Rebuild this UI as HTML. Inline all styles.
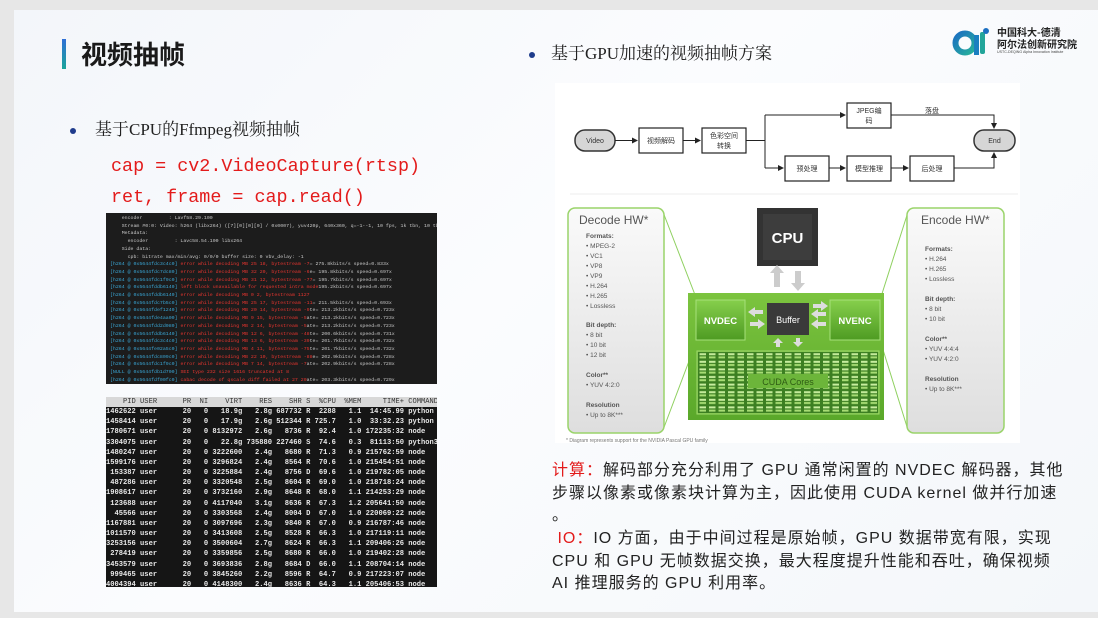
<!DOCTYPE html>
<html><head><meta charset="utf-8"><style>
*{margin:0;padding:0;box-sizing:border-box}
body{width:1098px;height:618px;background:#e7e7e7;position:relative;overflow:hidden;font-family:"Liberation Sans","Noto Sans CJK SC",sans-serif}
.slide{position:absolute;left:14px;top:10px;width:1084px;height:602px;background:linear-gradient(135deg,#f3f6fa 0%,#fbfcfe 45%,#f4f7fa 100%)}
.a{position:absolute}
pre{font-family:"Liberation Mono","DejaVu Sans Mono",monospace;white-space:pre;margin:0}
.t1{left:106px;top:213px;width:331px;height:171px;background:#1c1c1c;overflow:hidden;padding:2px 0 0 4px;font-size:4.9px;line-height:7.7px;color:#c8c8c8}
.c{color:#3aa7d6}.r{color:#e8352f}
.t2{left:106px;top:397px;width:331px;height:190px;background:#151515;overflow:hidden;font-size:7.1px;line-height:10.15px;color:#e8e8e8;font-weight:bold}
.t2 .h{background:#d8d8d8;color:#333;font-weight:normal}
.para{left:552px;width:540px;font-size:16px;line-height:22.7px;color:#222;white-space:nowrap;letter-spacing:1px;font-family:"Liberation Sans","Noto Sans CJK SC",sans-serif}
</style></head><body>
<div class="slide"></div>
<div class="a" style="left:62px;top:39px;width:4px;height:30px;background:linear-gradient(#2f6fd6,#1aa59a)"></div>
<div class="a" style="left:81px;top:36px;font-size:26px;font-weight:bold;color:#1a1a1a;font-family:'Noto Sans CJK SC',sans-serif;line-height:36px">视频抽帧</div>
<svg class="a" style="left:952px;top:26px" width="40" height="32" viewBox="0 0 40 32">
<defs><linearGradient id="lg" x1="0" y1="0" x2="1" y2="1"><stop offset="0" stop-color="#1b6fc1"/><stop offset="1" stop-color="#27b29a"/></linearGradient></defs>
<circle cx="13" cy="17" r="9.5" fill="none" stroke="url(#lg)" stroke-width="6"/>
<rect x="22" y="9" width="5" height="20" fill="#1b7fc0"/>
<rect x="28" y="6" width="5" height="22" rx="2" fill="#22a59a"/>
<circle cx="34" cy="5" r="3" fill="#1b6fc1"/>
</svg>
<div class="a" style="left:997px;top:26px;font-size:10px;line-height:12px;font-weight:bold;color:#222;font-family:'Noto Sans CJK SC',sans-serif">中国科大-德清<br>阿尔法创新研究院</div>
<div class="a" style="left:997px;top:50px;font-size:3.6px;color:#444;white-space:nowrap">USTC-DEQING Alpha Innovation Institute</div>
<div class="a" style="left:70px;top:128px;width:6px;height:6px;border-radius:50%;background:#1f3c8c"></div>
<div class="a" style="left:95px;top:119px;font-size:17px;color:#222;font-family:'Liberation Serif','Noto Serif CJK SC',serif;line-height:22px">基于CPU的Ffmpeg视频抽帧</div>
<pre class="a" style="left:111px;top:151px;font-size:18.4px;line-height:31px;color:#e31b1b">cap = cv2.VideoCapture(rtsp)
ret, frame = cap.read()</pre>
<pre class="a t1">    encoder         : Lavf58.29.100
    Stream #0:0: Video: h264 (libx264) ([7][0][0][0] / 0x0007), yuv420p, 640x360, q=-1--1, 10 fps, 1k tbn, 10 tbc
    Metadata:
      encoder         : Lavc58.54.100 libx264
    Side data:
      cpb: bitrate max/min/avg: 0/0/0 buffer size: 0 vbv_delay: -1
<span class="c">[h264 @ 0x5644fdc3c4c0]</span> <span class="r">error while decoding MB 25 18, bytestream -7</span>= 275.8kbits/s speed=0.833x
<span class="c">[h264 @ 0x5644fdc7dc80]</span> <span class="r">error while decoding MB 32 20, bytestream -6</span>e= 195.8kbits/s speed=0.697x
<span class="c">[h264 @ 0x5644fdc1f9c0]</span> <span class="r">error while decoding MB 31 12, bytestream -77</span>= 195.7kbits/s speed=0.697x
<span class="c">[h264 @ 0x5644fddb6140]</span> <span class="r">left block unavailable for requested intra mode</span>195.2kbits/s speed=0.697x
<span class="c">[h264 @ 0x5644fddb6140]</span> <span class="r">error while decoding MB 0 2, bytestream 1127</span>
<span class="c">[h264 @ 0x5644fdc7b5c0]</span> <span class="r">error while decoding MB 25 17, bytestream -11</span>= 211.5kbits/s speed=0.693x
<span class="c">[h264 @ 0x5644fdef1240]</span> <span class="r">error while decoding MB 20 14, bytestream -9</span>te= 213.2kbits/s speed=0.723x
<span class="c">[h264 @ 0x5644fde4aa00]</span> <span class="r">error while decoding MB 9 15, bytestream -5</span>ate= 213.2kbits/s speed=0.723x
<span class="c">[h264 @ 0x5644fdd2d080]</span> <span class="r">error while decoding MB 2 14, bytestream -5</span>ate= 213.2kbits/s speed=0.723x
<span class="c">[h264 @ 0x5644fddb6140]</span> <span class="r">error while decoding MB 12 6, bytestream -48</span>te= 200.6kbits/s speed=0.731x
<span class="c">[h264 @ 0x5644fdc3c4c0]</span> <span class="r">error while decoding MB 13 6, bytestream -39</span>te= 201.7kbits/s speed=0.732x
<span class="c">[h264 @ 0x5644fe02a5c0]</span> <span class="r">error while decoding MB 4 11, bytestream -75</span>te= 201.7kbits/s speed=0.732x
<span class="c">[h264 @ 0x5644fdc809c0]</span> <span class="r">error while decoding MB 22 10, bytestream -88</span>e= 202.9kbits/s speed=0.728x
<span class="c">[h264 @ 0x5644fdc1f9c0]</span> <span class="r">error while decoding MB 7 14, bytestream -7</span>ate= 202.9kbits/s speed=0.728x
<span class="c">[NULL @ 0x5644fdb1d700]</span> <span class="r">SEI type 232 size 1616 truncated at 8</span>
<span class="c">[h264 @ 0x5644fdf00fc0]</span> <span class="r">cabac decode of qscale diff failed at 27 20</span>ate= 203.3kbits/s speed=0.729x
<span class="c">[h264 @ 0x5644fdf00fc0]</span> <span class="r">error while decoding MB 27 20, bytestream 49465</span>
<span class="c">[h264 @ 0x5644fdf01580]</span> <span class="r">error while decoding MB 27 9, bytestream -20</span>te= 203.3kbits/s speed=0.729x</pre>
<pre class="a t2"><div class="h">    PID USER      PR  NI    VIRT    RES    SHR S  %CPU  %MEM     TIME+ COMMAND</div>1462622 user      20   0   18.9g   2.8g 687732 R  2288   1.1  14:45.99 python
1458414 user      20   0   17.9g   2.6g 512344 R 725.7   1.0  33:32.23 python
1780671 user      20   0 8132972   2.6g   8736 R  92.4   1.0 172235:32 node
3304075 user      20   0   22.8g 735880 227460 S  74.6   0.3  81113:50 python3
1480247 user      20   0 3222600   2.4g   8680 R  71.3   0.9 215762:59 node
1599176 user      20   0 3296824   2.4g   8564 R  70.6   1.0 215454:51 node
 153387 user      20   0 3225884   2.4g   8756 D  69.6   1.0 219782:05 node
 487286 user      20   0 3320548   2.5g   8604 R  69.0   1.0 218718:24 node
1908617 user      20   0 3732160   2.9g   8648 R  68.0   1.1 214253:29 node
 123688 user      20   0 4117040   3.1g   8636 R  67.3   1.2 205641:50 node
  45566 user      20   0 3303568   2.4g   8004 D  67.0   1.0 220069:22 node
1167881 user      20   0 3097696   2.3g   9840 R  67.0   0.9 216787:46 node
1011570 user      20   0 3413608   2.5g   8528 R  66.3   1.0 217119:11 node
3253156 user      20   0 3500604   2.7g   8624 R  66.3   1.1 209406:26 node
 278419 user      20   0 3359856   2.5g   8680 R  66.0   1.0 219402:28 node
3453579 user      20   0 3693836   2.8g   8684 D  66.0   1.1 208704:14 node
 999465 user      20   0 3845260   2.2g   8596 R  64.7   0.9 217223:07 node
4004394 user      20   0 4148300   2.4g   8636 R  64.3   1.1 205406:53 node</pre>
<div class="a" style="left:529px;top:52px;width:6px;height:6px;border-radius:50%;background:#1f3c8c"></div>
<div class="a" style="left:551px;top:43px;font-size:17px;color:#222;font-family:'Liberation Serif','Noto Serif CJK SC',serif;line-height:22px">基于GPU加速的视频抽帧方案</div>
<div class="a" style="left:555px;top:83px;width:465px;height:360px;background:#fff"></div>
<svg class="a" style="left:0;top:0" width="1098" height="618" font-family="Liberation Sans,Noto Sans CJK SC,sans-serif">
<defs>
<marker id="ar" markerWidth="6" markerHeight="6" refX="5" refY="3" orient="auto"><path d="M0,0L6,3L0,6z" fill="#222"/></marker>
<linearGradient id="pg" x1="0" y1="0" x2="0" y2="1"><stop offset="0" stop-color="#fafafa"/><stop offset="1" stop-color="#dedede"/></linearGradient>
<linearGradient id="gb" x1="0" y1="0" x2="0" y2="1"><stop offset="0" stop-color="#7cc43f"/><stop offset="1" stop-color="#5aa82a"/></linearGradient>
<linearGradient id="nv" x1="0" y1="0" x2="0" y2="1"><stop offset="0" stop-color="#86cf4c"/><stop offset="1" stop-color="#4e9b22"/></linearGradient>
<pattern id="cores" x="698" y="352" width="9.5" height="7.6" patternUnits="userSpaceOnUse">
<rect width="9.5" height="7.6" fill="#3c7f22"/><rect x="1.5" y="1.2" width="6.5" height="2" fill="#c8ee9f"/><rect x="1.5" y="4.4" width="6.5" height="2" fill="#a7dc74"/></pattern>
</defs>
<g stroke="#222" stroke-width="1" fill="none" font-size="7">
<rect x="575" y="130" width="40" height="21" rx="10" fill="#d6d6d6" stroke="#333" stroke-width="1.5"/>
<rect x="639" y="128" width="44" height="25" fill="#fff" stroke-width="1.2"/>
<rect x="702" y="128" width="44" height="25" fill="#fff" stroke-width="1.2"/>
<rect x="847" y="103" width="44" height="25" fill="#fff" stroke-width="1.2"/>
<rect x="785" y="156" width="44" height="25" fill="#fff" stroke-width="1.2"/>
<rect x="847" y="156" width="44" height="25" fill="#fff" stroke-width="1.2"/>
<rect x="910" y="156" width="44" height="25" fill="#fff" stroke-width="1.2"/>
<rect x="974" y="130" width="41" height="21" rx="10" fill="#d6d6d6" stroke="#333" stroke-width="1.5"/>
<path d="M615 140.5H637" marker-end="url(#ar)"/>
<path d="M683 140.5H700" marker-end="url(#ar)"/>
<path d="M746 140.5H765M765 115V168"/>
<path d="M765 115H845" marker-end="url(#ar)"/>
<path d="M765 168H783" marker-end="url(#ar)"/>
<path d="M829 168H845" marker-end="url(#ar)"/>
<path d="M891 168H908" marker-end="url(#ar)"/>
<path d="M891 115H994V128" marker-end="url(#ar)"/>
<path d="M954 168H994V153" marker-end="url(#ar)"/>
</g>
<g font-size="7" fill="#333" text-anchor="middle">
<text x="595" y="143">Video</text><text x="994.5" y="143">End</text>
<text x="661" y="143">视频解码</text>
<text x="724" y="138">色彩空间</text><text x="724" y="148">转换</text>
<text x="869" y="113">JPEG编</text><text x="869" y="123">码</text>
<text x="807" y="171">预处理</text><text x="869" y="171">模型推理</text><text x="932" y="171">后处理</text>
<text x="932" y="113">落盘</text>
</g>
<line x1="570" y1="194" x2="1018" y2="194" stroke="#eee"/>
<g stroke="#8fd060" stroke-width="1">
<path d="M663 212L697 300M663 430L697 340M908 212L880 300M908 430L880 340"/>
</g>
<rect x="568" y="208" width="96" height="225" rx="7" fill="url(#pg)" stroke="#9ad46a" stroke-width="1.5"/>
<rect x="907" y="208" width="97" height="225" rx="7" fill="url(#pg)" stroke="#9ad46a" stroke-width="1.5"/>
<g fill="#555" font-size="6.5">
<text x="579" y="224" font-size="12">Decode HW*</text>
<text x="586" y="238" font-weight="bold">Formats:</text>
<text x="586" y="248">•   MPEG-2</text><text x="586" y="258">•   VC1</text><text x="586" y="268">•   VP8</text><text x="586" y="278">•   VP9</text><text x="586" y="288">•   H.264</text><text x="586" y="298">•   H.265</text><text x="586" y="308">•   Lossless</text>
<text x="586" y="327" font-weight="bold">Bit depth:</text>
<text x="586" y="337">•   8 bit</text><text x="586" y="347">•   10 bit</text><text x="586" y="357">•   12 bit</text>
<text x="586" y="377" font-weight="bold">Color**</text><text x="586" y="387">•   YUV 4:2:0</text>
<text x="586" y="407" font-weight="bold">Resolution</text><text x="586" y="417">•   Up to 8K***</text>
<text x="921" y="224" font-size="12">Encode HW*</text>
<text x="925" y="251" font-weight="bold">Formats:</text>
<text x="925" y="261">•   H.264</text><text x="925" y="271">•   H.265</text><text x="925" y="281">•   Lossless</text>
<text x="925" y="301" font-weight="bold">Bit depth:</text>
<text x="925" y="311">•   8 bit</text><text x="925" y="321">•   10 bit</text>
<text x="925" y="341" font-weight="bold">Color**</text>
<text x="925" y="351">•   YUV 4:4:4</text><text x="925" y="361">•   YUV 4:2:0</text>
<text x="925" y="381" font-weight="bold">Resolution</text><text x="925" y="391">•   Up to 8K***</text>
</g>
<rect x="757" y="208" width="61" height="58" fill="#333"/>
<rect x="763" y="214" width="49" height="46" fill="#3d3d3d"/>
<text x="787.5" y="243" font-size="15" font-weight="bold" fill="#fff" text-anchor="middle">CPU</text>
<rect x="688" y="293" width="196" height="127" fill="url(#gb)"/>
<rect x="774" y="271" width="6" height="16" fill="#ccc"/><path d="M770 273L777 265L784 273z" fill="#ccc"/>
<rect x="795" y="271" width="6" height="14" fill="#ccc"/><path d="M791 283L798 291L805 283z" fill="#ccc"/>
<rect x="696" y="300" width="49" height="40" fill="url(#nv)" stroke="#a6e07a"/>
<rect x="830" y="300" width="50" height="40" fill="url(#nv)" stroke="#a6e07a"/>
<text x="720.5" y="324" font-size="9.5" font-weight="bold" fill="#fff" text-anchor="middle">NVDEC</text>
<text x="855" y="324" font-size="9.5" font-weight="bold" fill="#fff" text-anchor="middle">NVENC</text>
<rect x="767" y="303" width="42" height="32" fill="#3a3a3a"/>
<text x="788" y="323" font-size="9" fill="#fff" text-anchor="middle">Buffer</text>
<g fill="#ddd">
<path d="M748 312L755 307V310H763V314H755V317z"/><path d="M765 324L758 319V322H750V326H758V329z"/>
<path d="M811 314L818 309V312H826V316H818V319z"/><path d="M828 306L821 301V304H813V308H821V311z"/>
<path d="M811 324L818 319V322H826V326H818V329z"/>
<path d="M778 338L773 343H776V347H780V343H783z"/><path d="M798 347L793 342H796V338H800V342H803z"/>
</g>
<rect x="697" y="351" width="182" height="63" fill="#6fb83a" stroke="#9fd86e"/>
<rect x="698" y="352" width="180" height="61" fill="url(#cores)"/>
<rect x="748" y="374" width="80" height="14" fill="#6cb53a"/>
<text x="788" y="385" font-size="9" fill="#2f5d14" text-anchor="middle">CUDA Cores</text>
<text x="566" y="442" font-size="5" fill="#777">* Diagram represents support for the NVIDIA Pascal GPU family</text>
</svg>
<div class="a para" style="top:460px"><span style="color:#e31b1b">计算：</span>解码部分充分利用了 GPU 通常闲置的 NVDEC 解码器，其他<br>步骤以像素或像素块计算为主，因此使用 CUDA kernel 做并行加速<br>。</div>
<div class="a para" style="top:528px"><span style="color:#e31b1b">&nbsp;IO：</span>IO 方面，由于中间过程是原始帧，GPU 数据带宽有限，实现<br>CPU 和 GPU 无帧数据交换，最大程度提升性能和吞吐，确保视频<br>AI 推理服务的 GPU 利用率。</div>
</body></html>
